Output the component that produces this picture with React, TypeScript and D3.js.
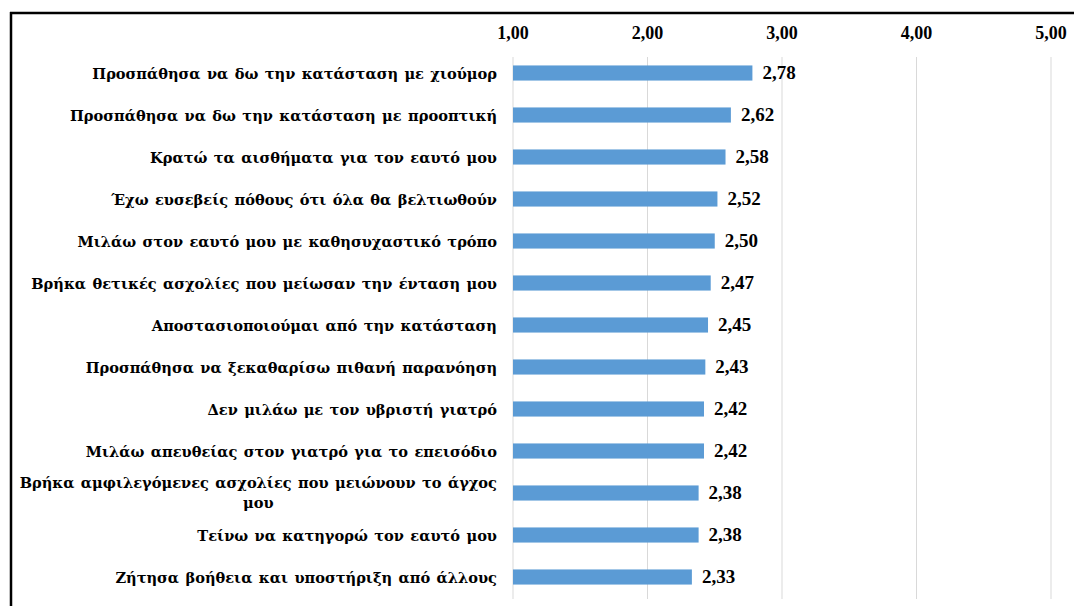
import React, { useEffect, useRef } from "react";
import * as d3 from "d3";

// Coping strategies, mean scores (scale 1–5)
const categories: string[][] = [
  ["Προσπάθησα να δω την κατάσταση με χιούμορ"],
  ["Προσπάθησα να δω την κατάσταση με προοπτική"],
  ["Κρατώ τα αισθήματα για τον εαυτό μου"],
  ["Έχω ευσεβείς πόθους ότι όλα θα βελτιωθούν"],
  ["Μιλάω στον εαυτό μου με καθησυχαστικό τρόπο"],
  ["Βρήκα θετικές ασχολίες που μείωσαν την ένταση μου"],
  ["Αποστασιοποιούμαι από την κατάσταση"],
  ["Προσπάθησα να ξεκαθαρίσω πιθανή παρανόηση"],
  ["Δεν μιλάω με τον υβριστή γιατρό"],
  ["Μιλάω απευθείας στον γιατρό για το επεισόδιο"],
  ["Βρήκα αμφιλεγόμενες ασχολίες που μειώνουν το άγχος", "μου"],
  ["Τείνω να κατηγορώ τον εαυτό μου"],
  ["Ζήτησα βοήθεια και υποστήριξη από άλλους"],
];
const values: number[] = [2.78, 2.62, 2.58, 2.52, 2.5, 2.47, 2.45, 2.43, 2.42, 2.42, 2.38, 2.38, 2.33];
const ticks: number[] = [1, 2, 3, 4, 5];

const W = 1074;
const H = 606;
const NUM_FONT = "Liberation Serif, DejaVu Serif, serif";
const TXT_FONT = "DejaVu Serif, serif";
const fmt = (v: number) => v.toFixed(2).replace(".", ",");

export default function App() {
  const ref = useRef<SVGSVGElement>(null);

  useEffect(() => {
    const svg = d3.select(ref.current);
    svg.selectAll("*").remove();

    const x = d3.scaleLinear().domain([1, 5]).range([513, 1051]);
    const idx = categories.map((_, i) => String(i));
    const y = d3.scaleBand().domain(idx).range([52, 598]).paddingInner(0.64).paddingOuter(0.32);

    // frame lines (top and left)
    svg.append("line").attr("x1", 10).attr("x2", W).attr("y1", 13).attr("y2", 13)
      .attr("stroke", "#000").attr("stroke-width", 2.5);
    svg.append("line").attr("x1", 11).attr("x2", 11).attr("y1", 12).attr("y2", H)
      .attr("stroke", "#000").attr("stroke-width", 2.5);

    // vertical gridlines
    svg.append("g").selectAll("line").data(ticks).join("line")
      .attr("x1", (d) => x(d)).attr("x2", (d) => x(d))
      .attr("y1", 57).attr("y2", 599)
      .attr("stroke", "#d9d9d9").attr("stroke-width", 1);

    // top axis tick labels
    svg.append("g").selectAll("text").data(ticks).join("text")
      .attr("x", (d) => x(d)).attr("y", 39)
      .attr("text-anchor", "middle")
      .style("font-family", NUM_FONT).attr("font-weight", "bold").attr("font-size", 18)
      .attr("fill", "#000")
      .text((d) => fmt(d));

    // bars
    svg.append("g").selectAll("rect").data(values).join("rect")
      .attr("x", x(1))
      .attr("y", (_, i) => y(String(i))!)
      .attr("width", (d) => x(d) - x(1))
      .attr("height", y.bandwidth())
      .attr("fill", "#5b9bd5");

    // value labels
    svg.append("g").selectAll("text").data(values).join("text")
      .attr("x", (d) => x(d) + 10)
      .attr("y", (_, i) => y(String(i))! + y.bandwidth() / 2 + 6)
      .style("font-family", NUM_FONT).attr("font-weight", "bold").attr("font-size", 19)
      .attr("fill", "#000")
      .text((d) => fmt(d));

    // category labels, right-aligned; wrapped ones centred on the longest line
    const labelRight = 497;
    const lg = svg.append("g");
    categories.forEach((lines, i) => {
      const cy = y(String(i))! + y.bandwidth() / 2;
      const lh = 20;
      const t = lg.append("text")
        .style("font-family", TXT_FONT).attr("font-weight", "bold").attr("font-size", 14.6)
        .attr("word-spacing", 1.3)
        .attr("fill", "#000");
      if (lines.length === 1) {
        t.attr("x", labelRight).attr("y", cy + 5.5).attr("text-anchor", "end").text(lines[0]);
      } else {
        t.attr("text-anchor", "middle");
        const spans = lines.map((ln, k) =>
          t.append("tspan").attr("y", cy + 5 + (k - (lines.length - 1) / 2) * lh).text(ln)
        );
        const maxW = d3.max(spans, (s) => (s.node() as SVGTSpanElement).getComputedTextLength()) || 0;
        spans.forEach((s) => s.attr("x", labelRight - maxW / 2));
      }
    });
  }, []);

  return (
    <svg ref={ref} width={W} height={H} style={{ display: "block", position: "absolute", left: 0, top: 0, background: "#fff" }} />
  );
}
